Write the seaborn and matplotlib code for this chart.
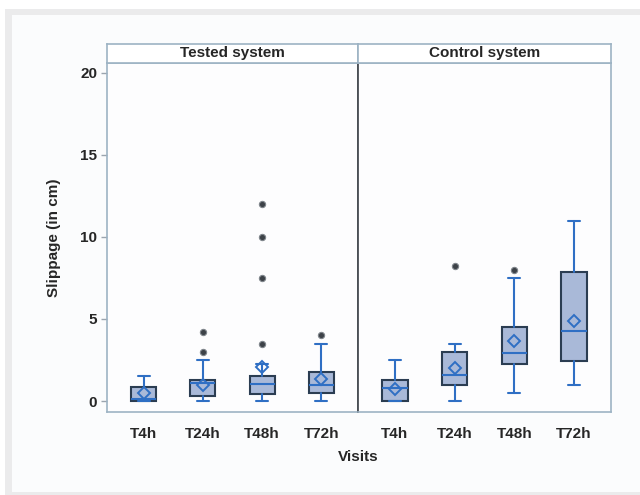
import matplotlib
matplotlib.use("Agg")
import matplotlib.pyplot as plt
from matplotlib.patches import Rectangle
import seaborn as sns

sns.set_style("white")
plt.rcParams['font.family'] = ['Liberation Sans Narrow', 'Liberation Sans', 'DejaVu Sans']
plt.rcParams['font.weight'] = 'bold'

visits = ["T4h", "T24h", "T48h", "T72h"]
panels = ["Tested system", "Control system"]

tested_whislo = [0.0, 0.0, 0.0, 0.0]
tested_q1 = [0.02, 0.3, 0.45, 0.5]
tested_med = [0.15, 1.12, 1.05, 1.0]
tested_q3 = [0.85, 1.25, 1.52, 1.75]
tested_whishi = [1.55, 2.5, 2.25, 3.5]
tested_mean = [0.48, 1.0, 2.05, 1.32]
tested_fliers = [[], [3.0, 4.2], [3.5, 7.5, 10.0, 12.0], [4.0]]

control_whislo = [0.0, 0.0, 0.5, 1.0]
control_q1 = [0.0, 0.95, 2.25, 2.45]
control_med = [0.78, 1.6, 2.95, 4.25]
control_q3 = [1.3, 3.0, 4.5, 7.85]
control_whishi = [2.5, 3.5, 7.5, 11.0]
control_mean = [0.75, 2.0, 3.65, 4.9]
control_fliers = [[], [8.2], [8.0], []]

yticks = [0, 5, 10, 15, 20]

W, H = 640, 495
fig = plt.figure(figsize=(W / 100, H / 100), dpi=100)
fig.patch.set_facecolor("white")
# outer frame band
fig.patches.append(Rectangle((5 / W, 0), 1, 1 - 9 / H, transform=fig.transFigure,
                             facecolor="#ebebec", edgecolor="none", zorder=-10))
fig.patches.append(Rectangle((12 / W, 3 / H), 1, 1 - 15 / H - 3 / H, transform=fig.transFigure,
                             facecolor="#fbfcfd", edgecolor="none", zorder=-9))

left_px, mid_px, right_px = 107, 358, 611
top_px, bot_px, head_top = 63, 412, 44

def fx(px):
    return px / W

def fy(py):
    return 1 - py / H

spine_col = "#9db3c4"
box_fill = "#a9b9d8"
box_edge = "#2b3d52"
blue = "#2f6fc4"

datasets = [
    (tested_whislo, tested_q1, tested_med, tested_q3, tested_whishi, tested_mean, tested_fliers),
    (control_whislo, control_q1, control_med, control_q3, control_whishi, control_mean, control_fliers),
]

axes = []
for i, (lo, hi) in enumerate([(left_px, mid_px), (mid_px, right_px)]):
    ax = fig.add_axes([fx(lo), fy(bot_px), fx(hi) - fx(lo), fy(top_px) - fy(bot_px)])
    ax.set_facecolor("#fdfdfe")
    wl, q1, md, q3, wh, mn, fl = datasets[i]
    stats = []
    for k, v in enumerate(visits):
        stats.append(dict(label=v, whislo=wl[k], q1=q1[k], med=md[k], q3=q3[k],
                          whishi=wh[k], mean=mn[k], fliers=fl[k]))
    ax.bxp(stats, positions=range(len(visits)), widths=0.42, patch_artist=True,
           showmeans=True, showfliers=True,
           boxprops=dict(facecolor=box_fill, edgecolor=box_edge, linewidth=1.5),
           medianprops=dict(color=blue, linewidth=1.5),
           whiskerprops=dict(color=blue, linewidth=1.5),
           capprops=dict(color=blue, linewidth=1.5),
           capwidths=0.2,
           meanprops=dict(marker="D", markerfacecolor="none", markeredgecolor=blue,
                          markeredgewidth=1.4, markersize=6),
           flierprops=dict(marker="o", markerfacecolor="#3d4248", markeredgecolor="#80868c",
                           markeredgewidth=0.8, markersize=4.5))
    ax.set_xlim(-0.62, 3.62)
    ax.set_ylim(-0.67, 20.6)
    ax.set_xticks(range(len(visits)))
    ax.set_xticklabels(visits, fontsize=11, fontweight="bold")
    for s in ax.spines.values():
        s.set_color(spine_col)
        s.set_linewidth(1.2)
    ax.tick_params(axis="x", length=4, color="#9aa4ae", width=1, pad=7, labelsize=11)
    if i == 0:
        ax.set_yticks(yticks)
        ax.set_yticklabels([str(t) for t in yticks], fontsize=11, fontweight="bold")
        ax.tick_params(axis="y", length=4, color="#9aa4ae", width=1, pad=3, left=True)
        ax.set_ylabel("Slippage (in cm)", fontsize=11, fontweight="bold", labelpad=14)
        ax.spines["right"].set_color("#4a4f55")
        ax.spines["right"].set_linewidth(1.3)
    else:
        ax.set_yticks(yticks)
        ax.tick_params(axis="y", left=False, labelleft=False)
        ax.spines["left"].set_color("#4a4f55")
        ax.spines["left"].set_linewidth(1.3)
    axes.append(ax)

    hax = fig.add_axes([fx(lo), fy(top_px), fx(hi) - fx(lo), fy(head_top) - fy(top_px)])
    hax.set_facecolor("white")
    hax.set_xticks([])
    hax.set_yticks([])
    for s in hax.spines.values():
        s.set_color(spine_col)
        s.set_linewidth(1.2)
    hax.text(0.5, 0.5, panels[i], ha="center", va="center", fontsize=11,
             fontweight="bold", transform=hax.transAxes)

fig.text(fx(mid_px), fy(457), "Visits", ha="center", va="center", fontsize=11, fontweight="bold")

fig.savefig("out.png", dpi=100, facecolor=fig.get_facecolor())
